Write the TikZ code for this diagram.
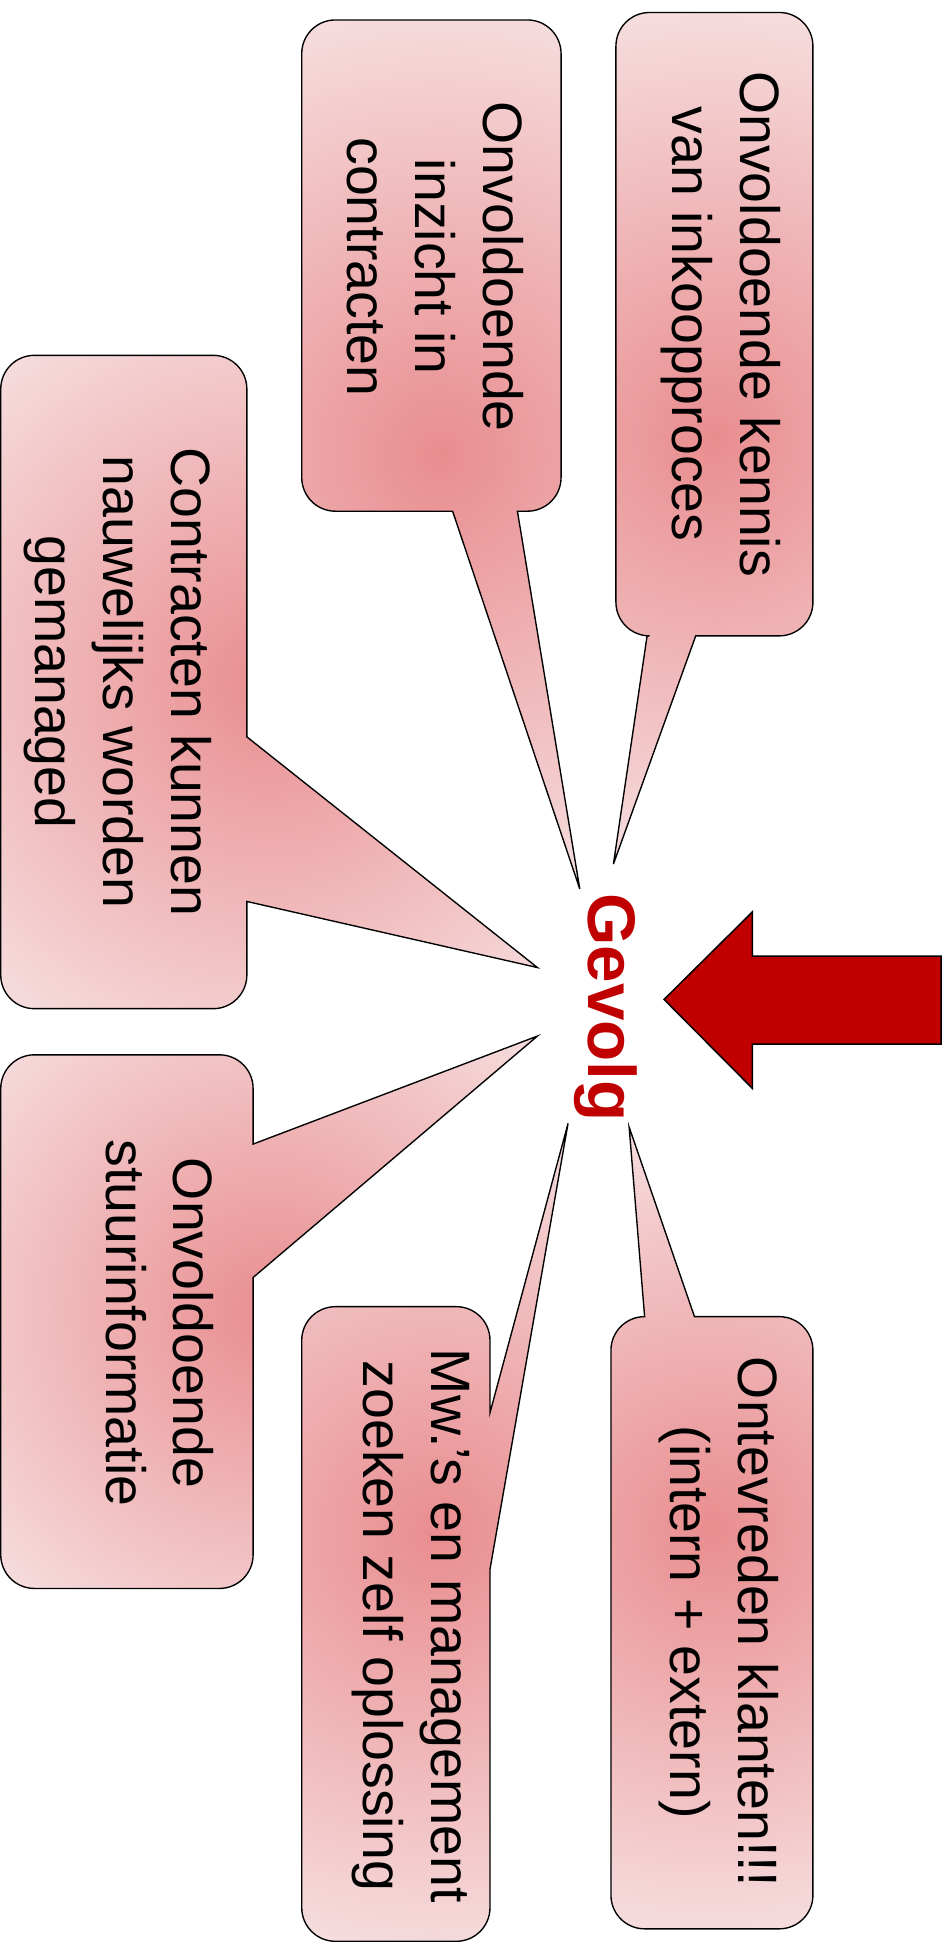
\documentclass[tikz,border=0pt]{standalone}
\usepackage{fontspec}
\setmainfont{Liberation Sans}
\definecolor{calloutin}{HTML}{E98D8F}
\definecolor{calloutout}{HTML}{F6DEDF}
\definecolor{arrowred}{HTML}{C00000}
\tikzset{
  callout/.style={draw=black, line width=1.1pt},
  glow/.style={inner color=calloutin, outer color=calloutout},
  calltext/.style={rotate=-90, anchor=north, align=center, inner sep=0pt, font=\fontsize{44.5}{54.5}\selectfont},
  headtext/.style={rotate=-90, anchor=north, inner sep=0pt, text=arrowred, font=\fontsize{54}{60}\selectfont\bfseries},
  bigarrow/.style={draw=black, line width=1.2pt, fill=arrowred, line join=miter}
}
\begin{document}
\begin{tikzpicture}[x=1pt,y=1pt]
\useasboundingbox (0,0) rectangle (762,-1568);
\def\r{27}
% Box A
\draw[callout, path picture={\shade[glow] (572,-351.5) circle (350.7);}]
  (494+\r,-10) -- (652-\r,-10) arc[start angle=90,end angle=0,radius=\r]
  -- (652,-510+\r) arc[start angle=0,end angle=-90,radius=\r]
  -- (558,-510) -- (492,-693) -- (519,-510)
  -- (494+\r,-510) arc[start angle=270,end angle=180,radius=\r]
  -- (494,-10-\r) arc[start angle=180,end angle=90,radius=\r] -- cycle;
% Box B
\draw[callout, path picture={\shade[glow] (353.5,-364.5) circle (365.9);}]
  (242+\r,-16) -- (450-\r,-16) arc[start angle=90,end angle=0,radius=\r]
  -- (450,-410+\r) arc[start angle=0,end angle=-90,radius=\r]
  -- (415,-410) -- (465,-713) -- (363,-410)
  -- (242+\r,-410) arc[start angle=270,end angle=180,radius=\r]
  -- (242,-16-\r) arc[start angle=180,end angle=90,radius=\r] -- cycle;
% Box C
\draw[callout, path picture={\shade[glow] (215.8,-547) circle (339);}]
  (0.6+\r,-285) -- (198-\r,-285) arc[start angle=90,end angle=0,radius=\r]
  -- (198,-591) -- (431,-776) -- (198,-723)
  -- (198,-809+\r) arc[start angle=0,end angle=-90,radius=\r]
  -- (0.6+\r,-809) arc[start angle=270,end angle=180,radius=\r]
  -- (0.6,-285-\r) arc[start angle=180,end angle=90,radius=\r] -- cycle;
% Box D
\draw[callout, path picture={\shade[glow] (215.8,-1052.5) circle (308.8);}]
  (0.6+\r,-846) -- (203-\r,-846) arc[start angle=90,end angle=0,radius=\r]
  -- (203,-917.6) -- (431,-831) -- (203,-1024.6)
  -- (203,-1274+\r) arc[start angle=0,end angle=-90,radius=\r]
  -- (0.6+\r,-1274) arc[start angle=270,end angle=180,radius=\r]
  -- (0.6,-846-\r) arc[start angle=180,end angle=90,radius=\r] -- cycle;
% Box E
\draw[callout, path picture={\shade[glow] (348.8,-1229) circle (345);}]
  (242+\r,-1048) -- (393-\r,-1048) arc[start angle=90,end angle=0,radius=\r]
  -- (393,-1133) -- (455.6,-901) -- (393,-1258.6)
  -- (393,-1557+\r) arc[start angle=0,end angle=-90,radius=\r]
  -- (242+\r,-1557) arc[start angle=270,end angle=180,radius=\r]
  -- (242,-1048-\r) arc[start angle=180,end angle=90,radius=\r] -- cycle;
% Box F
\draw[callout, path picture={\shade[glow] (571,-1225.5) circle (331.6);}]
  (490+\r,-1056) -- (517,-1056) -- (504.6,-904) -- (557,-1056)
  -- (652-\r,-1056) arc[start angle=90,end angle=0,radius=\r]
  -- (652,-1547+\r) arc[start angle=0,end angle=-90,radius=\r]
  -- (490+\r,-1547) arc[start angle=270,end angle=180,radius=\r]
  -- (490,-1056-\r) arc[start angle=180,end angle=90,radius=\r] -- cycle;
% Texts
\node[calltext] (ta) at (626,-260) {Onvoldoende kennis\\van inkoopproces};
\node[calltext] (tb) at (420,-214) {Onvoldoende\\inzicht in\\contracten};
\node[calltext] (tc) at (170,-547) {Contracten kunnen\\nauwelijks worden\\gemanaged};
\node[calltext] (td) at (172,-1061) {Onvoldoende\\stuurinformatie};
\node[calltext] (te) at (377,-1304) {Mw.’s en management\\zoeken zelf oplossing};
\node[calltext] (tf) at (625,-1301) {Ontevreden klanten!!!\\(intern + extern)};
% Gevolg and arrow
\node[headtext] (gevolg) at (511,-808) {Gevolg};
\draw[bigarrow] (532.6,-801.6) -- (603.5,-731.3) -- (603.5,-766.8) -- (754.8,-766.8)
  -- (754.8,-837.4) -- (603.5,-837.4) -- (603.5,-873) -- cycle;
\end{tikzpicture}
\end{document}
